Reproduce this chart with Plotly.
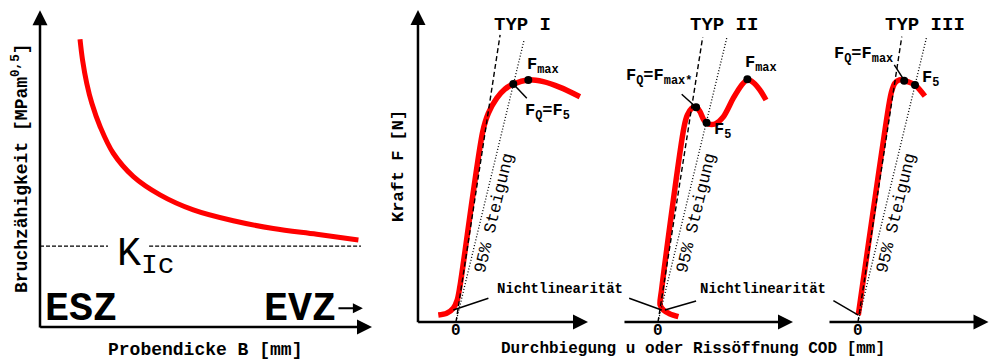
import plotly.graph_objects as go

# ---------------- data ----------------
# left panel: fracture toughness vs. specimen thickness (arbitrary units)
thickness = [1.25, 1.33, 1.46, 1.62, 1.88, 2.29, 2.92, 3.75, 4.79, 6.04, 7.29, 8.65, 9.95]
toughness = [8.99, 8.34, 7.62, 6.99, 6.26, 5.43, 4.70, 4.13, 3.66, 3.32, 3.08, 2.90, 2.72]
k_ic = 2.53

# right panels: force vs. displacement for fracture types I, II, III
u_typ1 = [-0.59, -0.31, -0.09, 0.04, 0.13, 0.89, 1.08, 1.36, 1.63, 1.91, 2.41, 2.91, 3.47, 4.13]
f_typ1 = [0.23, 0.29, 0.46, 0.73, 1.18, 6.34, 6.96, 7.46, 7.76, 7.93, 8.07, 8.01, 7.82, 7.51]

u_typ2 = [0.68, 0.40, 0.18, 0.07, 0.12, 0.87, 0.98, 1.12, 1.27, 1.40, 1.53, 1.68, 1.90,
          2.18, 2.51, 2.79, 2.98, 3.18, 3.40, 3.60]
f_typ2 = [0.18, 0.27, 0.40, 0.57, 1.07, 6.51, 6.90, 7.12, 7.18, 7.01, 6.73, 6.60, 6.60,
          6.84, 7.46, 7.90, 8.07, 7.98, 7.73, 7.40]

u_typ3 = [0.01, 1.04, 1.12, 1.23, 1.38, 1.57, 1.90, 2.23]
f_typ3 = [0.23, 7.29, 7.68, 7.96, 8.07, 8.04, 7.90, 7.53]

# end points of the initial-slope line and of the 95 % secant (both start at the origin)
tangent_u = [1.47, 1.49, 1.46]
tangent_f = [9.57, 9.50, 9.51]
secant_u = [2.27, 2.29, 2.29]
secant_f = [9.40, 9.46, 9.51]

# characteristic points (F_Q, F_5, F_max)
pts_u = [[1.91, 2.41], [1.27, 1.62, 2.98], [1.54, 1.90]]
pts_f = [[7.93, 8.07], [7.16, 6.64, 8.09], [8.04, 7.90]]

type_names = ["TYP I", "TYP II", "TYP III"]

# ---------------- figure ----------------
W, H = 989, 360
MONO = "Liberation Mono"
RED = "#ff0000"

fig = go.Figure()

# left panel
fig.add_trace(go.Scatter(x=thickness, y=toughness, mode="lines",
                         line=dict(color=RED, width=5, shape="spline"),
                         xaxis="x", yaxis="y", hoverinfo="skip"))
fig.add_trace(go.Scatter(x=[0, 2.125, None, 3.41, 10.03], y=[k_ic, k_ic, None, k_ic, k_ic],
                         mode="lines", line=dict(color="black", width=1.2, dash="4px,2px"),
                         xaxis="x", yaxis="y", hoverinfo="skip"))

curves = [(u_typ1, f_typ1), (u_typ2, f_typ2), (u_typ3, f_typ3)]
for i, (uu, ff) in enumerate(curves):
    ax_id = str(i + 2)
    xr, yr = "x" + ax_id, "y" + ax_id
    fig.add_trace(go.Scatter(x=uu, y=ff, mode="lines",
                             line=dict(color=RED, width=5.5, shape="spline", smoothing=0.8),
                             xaxis=xr, yaxis=yr, hoverinfo="skip"))
    fig.add_trace(go.Scatter(x=[0, tangent_u[i]], y=[0, tangent_f[i]], mode="lines",
                             line=dict(color="black", width=1.4, dash="5px,3px"),
                             xaxis=xr, yaxis=yr, hoverinfo="skip"))
    fig.add_trace(go.Scatter(x=[0, secant_u[i]], y=[0, secant_f[i]], mode="lines",
                             line=dict(color="black", width=1.3, dash="1px,2px"),
                             xaxis=xr, yaxis=yr, hoverinfo="skip"))
    fig.add_trace(go.Scatter(x=pts_u[i], y=pts_f[i], mode="markers",
                             marker=dict(color="black", size=8),
                             xaxis=xr, yaxis=yr, hoverinfo="skip"))

# leader lines (label -> point)
leaders = [
    ("x2", "y2", [-0.09, 1.08], [0.40, 0.79]),
    ("x2", "y2", [1.91, 2.36], [7.93, 7.46]),
    ("x3", "y3", [-0.96, 0.12], [0.79, 0.40]),
    ("x3", "y3", [1.27, 0.23], [0.70, 0.40]),
    ("x3", "y3", [0.79, 1.27], [7.59, 7.16]),
    ("x4", "y4", [-0.82, 0.01], [0.71, 0.23]),
    ("x4", "y4", [1.21, 1.53], [8.57, 8.07]),
]
for xr, yr, lx, ly in leaders:
    fig.add_trace(go.Scatter(x=lx, y=ly, mode="lines", line=dict(color="black", width=1.5),
                             xaxis=xr, yaxis=yr, hoverinfo="skip"))

ann = []


def arrow(xr, yr, x0, y0, x1, y1, width=2.5, size=1.2):
    ann.append(dict(x=x1, y=y1, ax=x0, ay=y0, xref=xr, yref=yr, axref=xr, ayref=yr,
                    text="", showarrow=True, arrowhead=2, arrowsize=size,
                    arrowwidth=width, arrowcolor="black", standoff=0))


def label(xr, yr, x, y, text, size, bold=True, xanchor="center", yanchor="middle", angle=0):
    ann.append(dict(x=x, y=y, xref=xr, yref=yr, text=text, showarrow=False,
                    xanchor=xanchor, yanchor=yanchor, textangle=angle,
                    font=dict(family=MONO, size=size, color="black",
                              weight="bold" if bold else "normal")))


# left panel axes
arrow("x", "y", 0, -0.06, 0, 9.9)
arrow("x", "y", -0.04, 0, 10.375, 0)
arrow("x", "y", 9.28, 0.59, 10.09, 0.59, width=2, size=1.0)
label("x", "y", 2.34, 2.2, "K<sub>Ic</sub>", 40, bold=False, xanchor="left")
label("x", "y", 0.08, 0.55, "ESZ", 40, xanchor="left")
label("x", "y", 6.95, 0.55, "EVZ", 40, xanchor="left")

# right panels axes
arrow("x2", "y2", -1.267, -0.06, -1.267, 10.4)
arrow("x2", "y2", -1.31, 0, 4.4, 0)
arrow("x3", "y3", -1.167, 0, 4.5, 0)
arrow("x4", "y4", -1.0, 0, 4.35, 0)

for i in range(3):
    xr, yr = "x" + str(i + 2), "y" + str(i + 2)
    label(xr, yr, 2.2 if i < 2 else 2.23, 9.9, type_names[i], 19)
    label(xr, yr, 0, -0.3, "0", 16)
    label(xr, yr, 1.27, 3.63, "95% Steigung", 17, bold=False, angle=-76.5)

label("x2", "y2", 2.3, 8.53, "F<sub>max</sub>", 17, xanchor="left")
label("x2", "y2", 2.23, 7.0, "F<sub>Q</sub>=F<sub>5</sub>", 17, xanchor="left")
label("x2", "y2", 1.3, 1.1, "Nichtlinearität", 14, xanchor="left")

label("x3", "y3", 1.2, 8.17, "F<sub>Q</sub>=F<sub>max*</sub>", 17, xanchor="right")
label("x3", "y3", 1.8, 6.37, "F<sub>5</sub>", 17, xanchor="left")
label("x3", "y3", 2.83, 8.6, "F<sub>max</sub>", 17, xanchor="left")
label("x3", "y3", 1.34, 1.1, "Nichtlinearität", 14, xanchor="left")

label("x4", "y4", 1.23, 8.9, "F<sub>Q</sub>=F<sub>max</sub>", 17, xanchor="right")
label("x4", "y4", 2.07, 8.1, "F<sub>5</sub>", 17, xanchor="left")

# axis titles
label("paper", "paper", 205 / W, 1 - 350 / H, "Probendicke B [mm]", 18)
label("paper", "paper", 20 / W, 1 - 168 / H, "Bruchzähigkeit [MPam<sup>0,5</sup>]", 18, angle=-90)
label("paper", "paper", 398 / W, 1 - 166 / H, "Kraft F [N]", 17, angle=-90)
label("paper", "paper", 693 / W, 1 - 349 / H, "Durchbiegung u oder Rissöffnung COD [mm]", 16)

hidden = dict(visible=False, showgrid=False, zeroline=False, fixedrange=True)
fig.update_layout(
    width=W, height=H,
    margin=dict(l=0, r=0, t=0, b=0),
    paper_bgcolor="white", plot_bgcolor="white",
    showlegend=False,
    annotations=ann,
    xaxis=dict(domain=[0, 390 / W], range=[-1.25, 10.9375], anchor="y", **hidden),
    yaxis=dict(domain=[0, 1], range=[-1.031, 10.219], anchor="x", **hidden),
    xaxis2=dict(domain=[395 / W, 615 / W], range=[-2.033, 5.3], anchor="y2", **hidden),
    yaxis2=dict(domain=[0, 1], range=[-1.267, 10.733], anchor="x2", **hidden),
    xaxis3=dict(domain=[615 / W, 815 / W], range=[-1.433, 5.233], anchor="y3", **hidden),
    yaxis3=dict(domain=[0, 1], range=[-1.267, 10.733], anchor="x3", **hidden),
    xaxis4=dict(domain=[815 / W, 1], range=[-1.433, 4.367], anchor="y4", **hidden),
    yaxis4=dict(domain=[0, 1], range=[-1.267, 10.733], anchor="x4", **hidden),
)

fig.write_html("out.html")
